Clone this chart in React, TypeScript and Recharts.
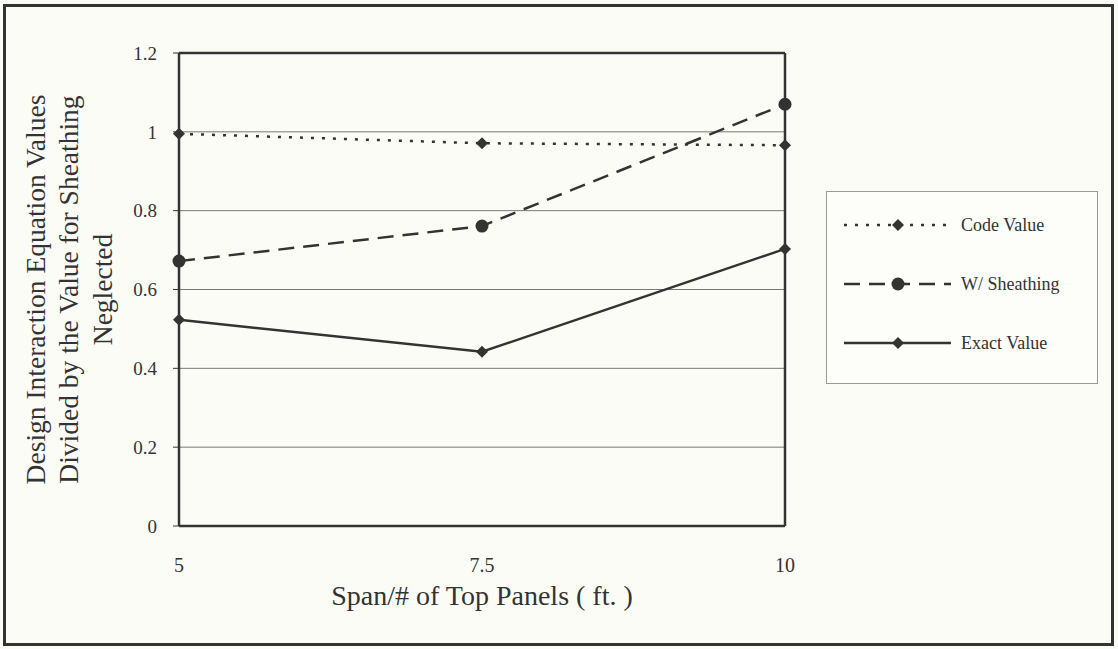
import { LineChart, Line, XAxis, YAxis, CartesianGrid, Legend, ReferenceLine } from 'recharts';

const spans = [5, 7.5, 10];
const codeValue = [0.995, 0.971, 0.966];
const withSheathing = [0.672, 0.761, 1.07];
const exactValue = [0.523, 0.442, 0.703];
const yTicks = [0, 0.2, 0.4, 0.6, 0.8, 1, 1.2];

const data = spans.map((span, i) => ({
  span,
  code: codeValue[i],
  sheathing: withSheathing[i],
  exact: exactValue[i],
}));

const INK = '#333';
const FONT = '"Liberation Serif", "DejaVu Serif", serif';

const Diamond = (props: any) => {
  const { cx, cy, index } = props;
  if (cx == null || cy == null) return null;
  const s = 6;
  return <polygon key={index} points={`${cx},${cy - s} ${cx + s},${cy} ${cx},${cy + s} ${cx - s},${cy}`} fill={INK} />;
};

const Dot = (props: any) => {
  const { cx, cy, index } = props;
  if (cx == null || cy == null) return null;
  return <circle key={index} cx={cx} cy={cy} r={6.5} fill={INK} />;
};

const series = [
  { key: 'code', name: 'Code Value', dash: '3 8', marker: 'diamond' },
  { key: 'sheathing', name: 'W/ Sheathing', dash: '16 9', marker: 'circle' },
  { key: 'exact', name: 'Exact Value', dash: undefined, marker: 'diamond' },
];

const LegendBox = () => (
  <div style={{ width: 272, height: 193, border: '1px solid #999', boxSizing: 'border-box', background: '#fdfdf9' }}>
    <svg width={270} height={191}>
      {series.map((s, i) => {
        const y = 33 + i * 59;
        return (
          <g key={s.key}>
            <line x1={17} x2={124} y1={y} y2={y} stroke={INK} strokeWidth={2.5} strokeDasharray={s.dash} />
            {s.marker === 'circle' ? (
              <circle cx={71} cy={y} r={6.5} fill={INK} />
            ) : (
              <polygon points={`71,${y - 6} 77,${y} 71,${y + 6} 65,${y}`} fill={INK} />
            )}
            <text x={134} y={y + 6} fontFamily={FONT} fontSize={18} fill={INK}>
              {s.name}
            </text>
          </g>
        );
      })}
    </svg>
  </div>
);

const YLabel = (props: any) => {
  const cy = props.viewBox.y + props.viewBox.height / 2;
  const lines = [
    { x: 45, text: 'Design Interaction Equation Values' },
    { x: 78, text: 'Divided by the Value for Sheathing' },
    { x: 112, text: 'Neglected' },
  ];
  return (
    <g>
      {lines.map((l) => (
        <text
          key={l.x}
          x={l.x}
          y={cy}
          transform={`rotate(-90, ${l.x}, ${cy})`}
          textAnchor="middle"
          fontFamily={FONT}
          fontSize={27.5}
          fill={INK}
        >
          {l.text}
        </text>
      ))}
    </g>
  );
};

const XLabel = (props: any) => {
  const { x, width } = props.viewBox;
  return (
    <text x={x + width / 2} y={605} textAnchor="middle" fontFamily={FONT} fontSize={28} fill={INK}>
      Span/# of Top Panels ( ft. )
    </text>
  );
};

export default function App() {
  return (
    <div style={{ width: 1118, height: 649, position: 'relative', background: '#fcfcf7' }}>
      <style>{'body{margin:0}'}</style>
      <div
        style={{
          position: 'absolute',
          left: 3,
          top: 4,
          right: 4,
          bottom: 3,
          border: `3px solid ${INK}`,
          pointerEvents: 'none',
        }}
      />
      <LineChart width={1118} height={649} data={data} margin={{ top: 53, right: 333, left: 0, bottom: 0 }}>
        <CartesianGrid vertical={false} stroke="#777" strokeWidth={1} />
        <XAxis
          dataKey="span"
          type="number"
          domain={[5, 10]}
          ticks={spans}
          height={123}
          axisLine={{ stroke: INK, strokeWidth: 2.5 }}
          tickLine={false}
          tickSize={0}
          tickMargin={32}
          tick={{ fill: INK, fontFamily: FONT, fontSize: 20 }}
          label={<XLabel />}
        />
        <YAxis
          domain={[0, 1.2]}
          ticks={yTicks}
          width={179}
          axisLine={{ stroke: INK, strokeWidth: 2.5 }}
          tickLine={{ stroke: INK }}
          tickSize={6}
          tickMargin={16}
          tick={{ fill: INK, fontFamily: FONT, fontSize: 19 }}
          label={<YLabel />}
        />
        <ReferenceLine y={1.2} stroke={INK} strokeWidth={2.5} />
        <ReferenceLine x={10} stroke={INK} strokeWidth={2.5} />
        <Legend
          layout="vertical"
          align="center"
          verticalAlign="middle"
          wrapperStyle={{ left: 826, top: 191, width: 272, height: 193 }}
          content={<LegendBox />}
        />
        {series.map((s) => (
          <Line
            key={s.key}
            type="linear"
            dataKey={s.key}
            name={s.name}
            stroke={INK}
            strokeWidth={2.5}
            strokeDasharray={s.dash}
            dot={s.marker === 'circle' ? <Dot /> : <Diamond />}
            activeDot={false}
            isAnimationActive={false}
          />
        ))}
      </LineChart>
    </div>
  );
}
